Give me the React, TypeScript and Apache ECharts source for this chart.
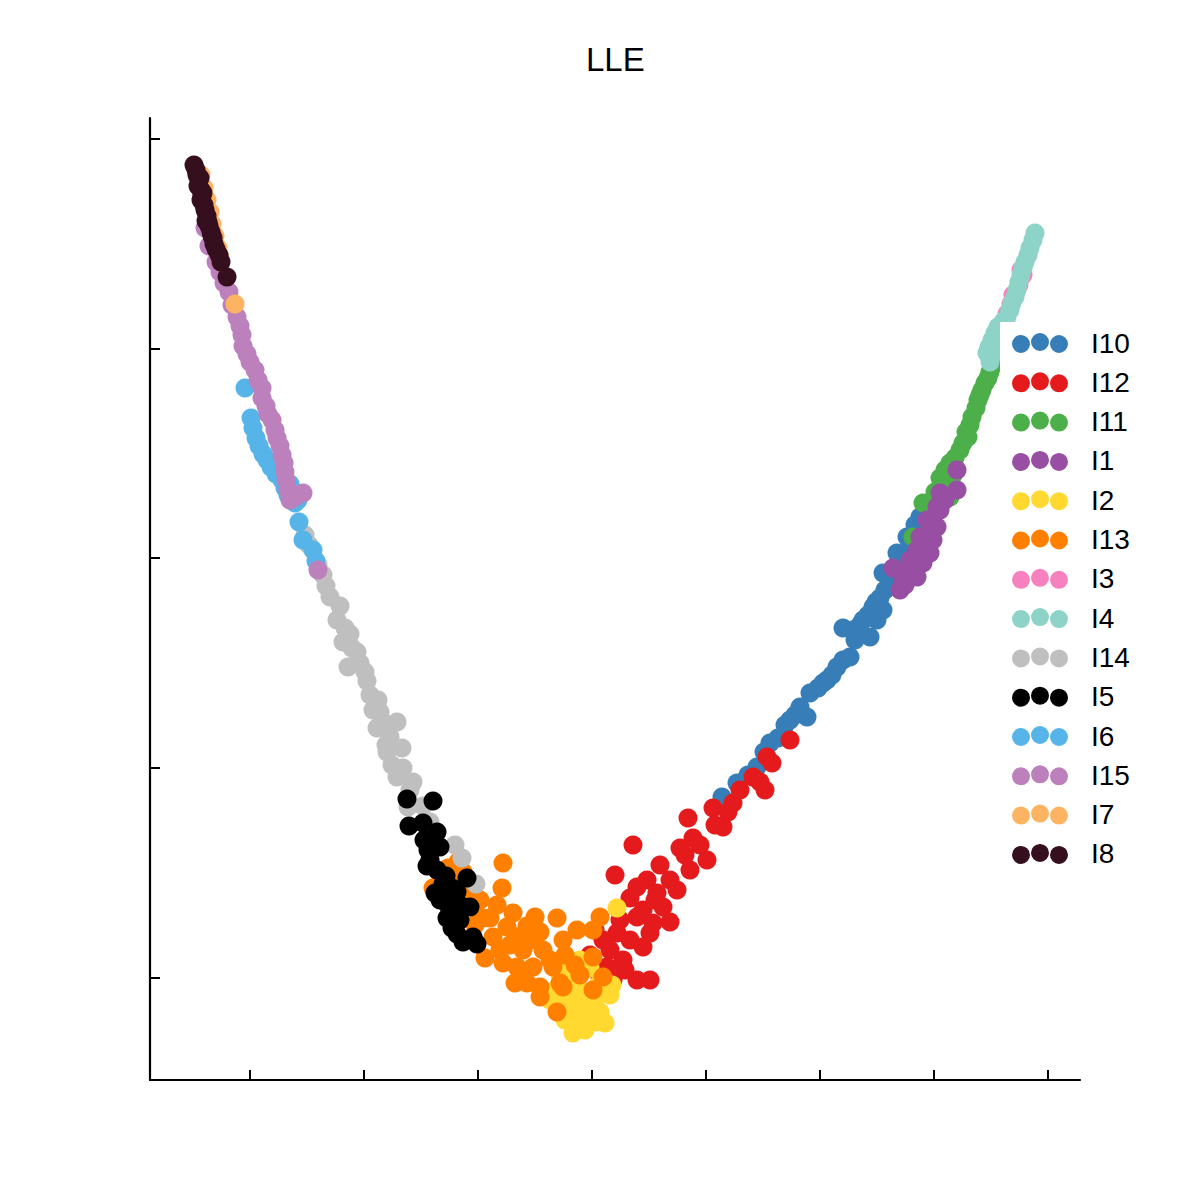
import React, { useEffect, useRef } from "react";
import * as echarts from "echarts";

const FONT = "'Liberation Sans', Arial, Helvetica, sans-serif";

const legendNames = ["I10", "I12", "I11", "I1", "I2", "I13", "I3", "I4", "I14", "I5", "I6", "I15", "I7", "I8"];
const colors = ["#377eb8", "#e41a1c", "#4daf4a", "#984ea3", "#ffd92f", "#ff7f00", "#f781bf", "#8dd3c7", "#bfbfbf", "#000000", "#56b4e9", "#bc80bd", "#fdb462", "#360f1f"];

const xTicks = [250, 364, 478, 592, 706, 820, 934, 1048];
const yTicks = [222, 432, 642, 851, 1061];

const I10 = [[722,403],[737,417],[748,425],[757,433],[764,448],[770,457],[778,462],[790,480],[800,493],[807,483],[810,507],[818,512],[827,520],[832,525],[837,533],[843,540],[850,543],[843,572],[853,570],[860,575],[863,580],[870,563],[868,585],[877,580],[883,590],[873,593],[880,602],[885,610],[890,620],[883,627],[897,647],[900,635],[907,663],[910,652],[920,683],[915,675],[855,560],[823,517],[795,485],[785,475],[893,628],[904,645],[876,598]];
const I12 = [[633,355],[615,325],[688,382],[713,392],[723,373],[728,388],[733,397],[740,410],[753,423],[760,418],[765,410],[767,443],[772,437],[790,460],[680,352],[693,362],[707,340],[700,355],[660,335],[670,320],[647,320],[677,310],[637,313],[657,307],[630,302],[643,290],[663,293],[670,278],[653,277],[637,283],[620,280],[617,267],[603,260],[630,260],[650,267],[643,253],[610,250],[623,240],[607,233],[637,220],[650,220],[613,220],[600,223],[595,270],[590,245],[690,330],[715,375],[625,230],[655,300],[685,345]];
const I11 = [[923,697],[935,708],[940,722],[945,730],[950,737],[955,742],[960,750],[963,757],[966,768],[970,775],[972,783],[976,792],[978,800],[982,810],[985,817],[990,828],[993,835],[997,842],[950,703],[913,663],[943,715],[953,725],[968,763],[980,805],[988,822]];
const I1 = [[957,730],[957,710],[940,707],[945,700],[937,693],[927,680],[937,673],[930,668],[920,663],[933,660],[925,655],[917,650],[930,647],[910,640],[922,642],[893,632],[910,633],[923,637],[903,625],[903,620],[917,623],[900,610],[905,615],[915,630],[940,690],[928,660]];
const I2 = [[617,292],[570,235],[580,240],[590,232],[560,225],[575,222],[598,215],[610,205],[585,208],[570,205],[555,210],[548,202],[562,198],[595,200],[578,195],[590,190],[570,188],[582,182],[600,188],[605,177],[573,167],[585,170],[596,178],[565,180],[612,215],[550,200]];
const I13 = [[433,312],[441,322],[448,332],[458,338],[463,328],[503,337],[502,312],[480,300],[497,295],[490,282],[483,282],[513,287],[535,283],[557,282],[507,273],[527,274],[540,268],[493,263],[517,263],[485,242],[500,250],[523,250],[543,250],[563,260],[577,270],[593,270],[600,283],[550,240],[503,237],[517,233],[533,233],[553,233],[515,217],[527,217],[540,213],[560,217],[540,203],[563,213],[580,225],[593,243],[593,210],[603,223],[557,188],[520,223],[470,295],[475,275],[510,255],[530,260],[565,245],[575,235],[470,312],[455,317]];
const I3 = [[996,858],[999,866],[1003,876],[1007,886],[1011,896],[1015,905],[1019,915],[1023,925],[1021,930],[1013,905]];
const I4 = [[1035,967],[1033,960],[1030,952],[1028,945],[1025,938],[1023,932],[1021,925],[1019,918],[1017,910],[1015,903],[1012,897],[1010,890],[1007,883],[1003,878],[998,873],[995,867],[992,860],[989,853],[987,847],[990,838],[1005,880],[1000,870],[1000,855],[996,848]];
const I14 = [[305,665],[309,655],[318,635],[323,625],[326,614],[330,603],[340,594],[337,580],[345,572],[350,566],[343,558],[352,552],[357,548],[360,537],[348,533],[365,528],[367,519],[370,505],[378,500],[373,490],[380,488],[383,478],[377,472],[397,478],[390,463],[386,455],[402,452],[387,448],[392,435],[403,432],[397,423],[413,418],[410,410],[408,393],[423,394],[430,378],[455,355],[462,342],[476,316]];
const I5 = [[407,401],[433,399],[409,374],[423,377],[437,368],[424,360],[428,350],[440,353],[430,340],[427,334],[437,330],[446,324],[467,322],[443,316],[452,312],[457,308],[440,300],[448,295],[460,295],[470,293],[447,282],[460,280],[452,272],[457,266],[473,263],[463,258],[477,256],[435,307]];
const I6 = [[245,812],[251,782],[253,772],[256,762],[259,754],[263,746],[267,740],[271,733],[276,726],[282,720],[290,716],[285,712],[288,705],[295,697],[299,678],[303,660],[313,650],[316,639],[298,700]];
const I15 = [[205,972],[209,954],[216,938],[220,928],[224,917],[229,908],[232,895],[237,883],[240,874],[242,865],[243,854],[247,846],[250,838],[255,830],[258,820],[262,812],[262,802],[266,794],[268,786],[272,780],[275,770],[277,762],[280,754],[282,745],[284,737],[285,728],[286,720],[288,710],[295,703],[303,707],[290,700],[318,630]];
const I7 = [[201,1025],[204,1012],[207,1000],[210,988],[212,976],[215,964],[218,952],[220,942],[235,896]];
const I8 = [[194,1035],[196,1030],[197,1025],[199,1020],[198,1014],[201,1010],[202,1004],[201,1000],[204,995],[205,990],[207,984],[206,979],[209,974],[211,968],[213,962],[214,956],[216,951],[219,945],[221,938],[227,923],[200,1022],[203,1007],[208,978],[212,964]];

const seriesValues = [I10, I12, I11, I1, I2, I13, I3, I4, I14, I5, I6, I15, I7, I8];

const legendIcon =
  "path://M0,11a9,9 0 1,0 18,0a9,9 0 1,0 -18,0Z" +
  "M19,9a9,9 0 1,0 18,0a9,9 0 1,0 -18,0Z" +
  "M38,11a9,9 0 1,0 18,0a9,9 0 1,0 -18,0Z";

export default function App() {
  const ref = useRef<HTMLDivElement>(null);
  useEffect(() => {
    document.body.style.margin = "0";
    const chart = echarts.init(ref.current as HTMLDivElement, null, { renderer: "svg" });
    chart.setOption({
      animation: false,
      backgroundColor: "#ffffff",
      title: {
        text: "LLE",
        left: 586,
        top: 43,
        padding: 0,
        textStyle: { fontFamily: FONT, fontSize: 33, fontWeight: "normal", color: "#000" },
      },
      grid: { left: 150, top: 118, width: 930, height: 962, containLabel: false },
      xAxis: {
        type: "value",
        min: 150,
        max: 1080,
        axisLine: { show: true, onZero: false, lineStyle: { color: "#000", width: 2.2 } },
        axisTick: { show: true, inside: true, length: 10, customValues: xTicks, lineStyle: { color: "#000", width: 2 } },
        axisLabel: { show: false },
        splitLine: { show: false },
      },
      yAxis: {
        type: "value",
        min: 120,
        max: 1082,
        axisLine: { show: true, onZero: false, lineStyle: { color: "#000", width: 2.2 } },
        axisTick: { show: true, inside: true, length: 10, customValues: yTicks, lineStyle: { color: "#000", width: 2 } },
        axisLabel: { show: false },
        splitLine: { show: false },
      },
      legend: {
        orient: "vertical",
        left: 1000,
        top: 322,
        padding: [7, 30, 7, 12],
        backgroundColor: "#ffffff",
        itemWidth: 56,
        itemHeight: 20,
        itemGap: 11.3,
        icon: legendIcon,
        selectedMode: false,
        data: legendNames,
        textStyle: { fontFamily: FONT, fontSize: 28, lineHeight: 28, color: "#000", padding: [0, 0, 0, 18] },
      },
      series: legendNames.map((name, i) => ({
        name,
        type: "scatter",
        data: seriesValues[i],
        symbol: "circle",
        symbolSize: 19,
        itemStyle: { color: colors[i], opacity: 1 },
        emphasis: { disabled: true },
      })),
    });
    return () => chart.dispose();
  }, []);
  return <div ref={ref} style={{ width: 1200, height: 1200 }} />;
}
